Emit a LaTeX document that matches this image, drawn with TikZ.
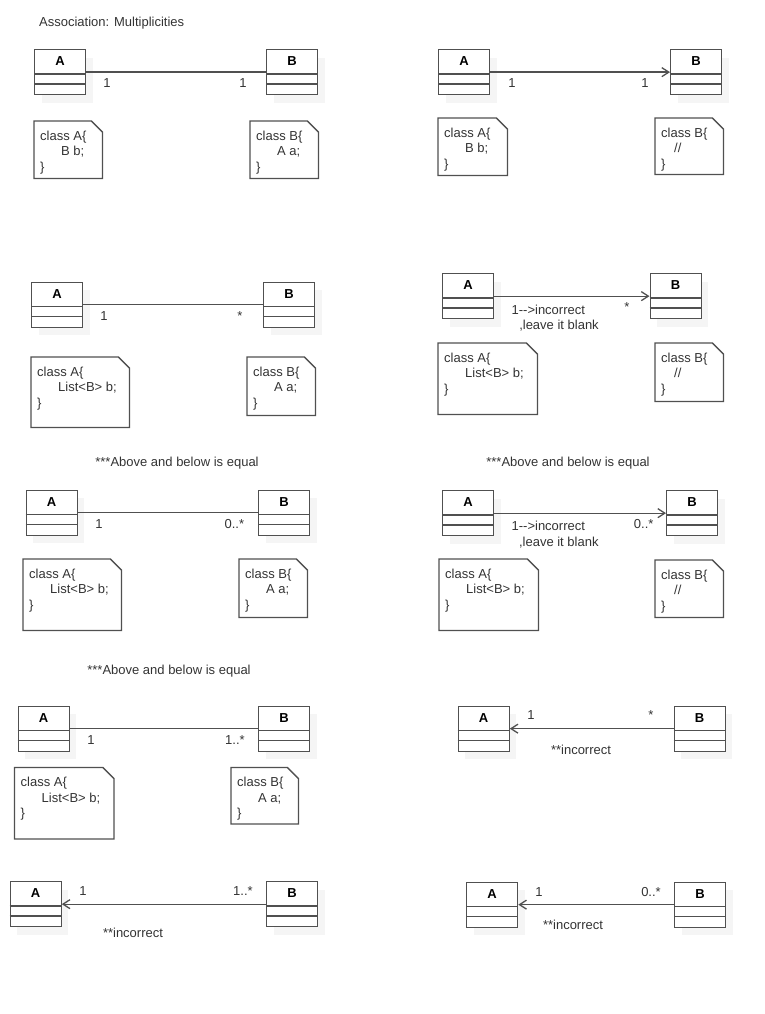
\documentclass[tikz,border=0pt]{standalone}
\usepackage{fontspec}
\setmainfont{Liberation Sans}
\usetikzlibrary{arrows.meta,shadows}

\definecolor{linegray}{HTML}{505050}
\definecolor{textgray}{HTML}{333333}

\newcommand{\umlclass}[4]{
  \node[classbox] (#1) at (#2,#3) {};
  \draw[thinline] ([yshift=-25pt]#1.north west) -- ([yshift=-25pt]#1.north east);
  \draw[thinline] ([yshift=-35pt]#1.north west) -- ([yshift=-35pt]#1.north east);
  \node[classname] (#1-name) at ([yshift=-12.5pt]#1.north) {#4};
}

\newcommand{\codenote}[6]{
  \node[notebox, minimum width=#4pt, minimum height=#5pt] (#1) at (#2,#3) {};
  \draw[thinline] (#1.north west) -- ([xshift=-11pt]#1.north east)
    -- ([yshift=-11pt]#1.north east) -- (#1.south east) -- (#1.south west) -- cycle;
  \node[notetext] (#1-text) at ([xshift=6pt,yshift=-9.5pt]#1.north west) {#6};
}

\begin{document}
\begin{tikzpicture}[x=1pt,y=-1pt,
  every node/.style={text=textgray,font=\fontsize{13}{15.5}\selectfont},
  thinline/.style={draw=linegray,line width=1.3pt},
  classbox/.style={draw=linegray,line width=1.3pt,fill=white,anchor=north west,inner sep=0pt,
    minimum width=51pt,minimum height=45pt,
    drop shadow={shadow xshift=7pt,shadow yshift=-8pt,fill=black!4,opacity=1}},
  classname/.style={font=\bfseries\fontsize{13}{15.5}\selectfont,text=black},
  notebox/.style={anchor=north west,inner sep=0pt},
  notetext/.style={anchor=north west,inner sep=0pt,align=left},
  mult/.style={anchor=base,inner sep=0pt},
  assoc/.style={draw=linegray,line width=1.3pt},
  nav/.style={-{Straight Barb[length=7pt,width=9pt]}}]

  \useasboundingbox (0,0) rectangle (764,1014);

  \node[mult,anchor=base west] (title) at (39,26.5) {Association: Multiplicities};

  % row 1
  \umlclass{a1}{34}{49}{A}
  \umlclass{b1}{266}{49}{B}
  \codenote{na1}{34}{121}{68}{57}{class A\{\\\hspace*{21pt}B b;\\\}}
  \codenote{nb1}{250}{121}{68}{57}{class B\{\\\hspace*{21pt}A a;\\\}}
  \path[assoc] (a1) edge (b1);
  \node[mult] (m1a) at (107,88) {1};
  \node[mult] (m1b) at (243,88) {1};

  \umlclass{a2}{438}{49}{A}
  \umlclass{b2}{670}{49}{B}
  \codenote{na2}{438}{118}{69}{57}{class A\{\\\hspace*{21pt}B b;\\\}}
  \codenote{nb2}{655}{118}{68}{56}{class B\{\\\hspace*{13pt}//\\\}}
  \path[assoc] (a2) edge[nav] (b2);
  \node[mult] (m2a) at (512,88) {1};
  \node[mult] (m2b) at (645,88) {1};

  % row 2
  \umlclass{a3}{31}{281.5}{A}
  \umlclass{b3}{263}{281.5}{B}
  \codenote{na3}{31}{357}{98}{70}{class A\{\\\hspace*{21pt}List<B> b;\\\}}
  \codenote{nb3}{247}{357}{68}{58}{class B\{\\\hspace*{21pt}A a;\\\}}
  \path[assoc] (a3) edge (b3);
  \node[mult] (m3a) at (104,320) {1};
  \node[mult] (m3b) at (240,320) {*};

  \umlclass{a4}{442}{273}{A}
  \umlclass{b4}{649.5}{273}{B}
  \codenote{na4}{438}{343}{99}{71}{class A\{\\\hspace*{21pt}List<B> b;\\\}}
  \codenote{nb4}{655}{343}{68}{58}{class B\{\\\hspace*{13pt}//\\\}}
  \path[assoc] (a4) edge[nav] (b4);
  \node[mult] (m4a) at (548.3,314.5) {1-{}->incorrect};
  \node[mult] (m4c) at (559,329.5) {,leave it blank};
  \node[mult] (m4b) at (627,311.5) {*};

  \node[mult] (eq1) at (177,466.5) {***Above and below is equal};
  \node[mult] (eq2) at (568,466.5) {***Above and below is equal};

  % row 3
  \umlclass{a5}{25.5}{489.5}{A}
  \umlclass{b5}{258}{489.5}{B}
  \codenote{na5}{23}{559}{98}{71}{class A\{\\\hspace*{21pt}List<B> b;\\\}}
  \codenote{nb5}{239}{559}{68}{58}{class B\{\\\hspace*{21pt}A a;\\\}}
  \path[assoc] (a5) edge (b5);
  \node[mult] (m5a) at (99,528) {1};
  \node[mult] (m5b) at (234.3,528) {0..*};

  \umlclass{a6}{442}{490}{A}
  \umlclass{b6}{666}{490}{B}
  \codenote{na6}{439}{559}{99}{71}{class A\{\\\hspace*{21pt}List<B> b;\\\}}
  \codenote{nb6}{655}{560}{68}{57}{class B\{\\\hspace*{13pt}//\\\}}
  \path[assoc] (a6) edge[nav] (b6);
  \node[mult] (m6a) at (548.3,530) {1-{}->incorrect};
  \node[mult] (m6c) at (558.8,546) {,leave it blank};
  \node[mult] (m6b) at (643.7,528.5) {0..*};

  \node[mult] (eq3) at (169,674.5) {***Above and below is equal};

  % row 4
  \umlclass{a7}{17.5}{705.5}{A}
  \umlclass{b7}{258}{705.5}{B}
  \codenote{na7}{14.5}{767.5}{99}{71}{class A\{\\\hspace*{21pt}List<B> b;\\\}}
  \codenote{nb7}{231}{767.5}{67}{56}{class B\{\\\hspace*{21pt}A a;\\\}}
  \path[assoc] (a7) edge (b7);
  \node[mult] (m7a) at (91,744) {1};
  \node[mult] (m7b) at (235,744) {1..*};

  \umlclass{a8}{457.5}{705.5}{A}
  \umlclass{b8}{673.5}{705.5}{B}
  \path[assoc] (b8) edge[nav] (a8);
  \node[mult] (m8a) at (531,719.5) {1};
  \node[mult] (m8b) at (651,719.5) {*};
  \node[mult] (w8) at (581,754.5) {**incorrect};

  % row 5
  \umlclass{a9}{9.5}{881}{A}
  \umlclass{b9}{266}{881}{B}
  \path[assoc] (b9) edge[nav] (a9);
  \node[mult] (m9a) at (83,895.5) {1};
  \node[mult] (m9b) at (243,895.5) {1..*};
  \node[mult] (w9) at (133,937.5) {**incorrect};

  \umlclass{a10}{466}{881.5}{A}
  \umlclass{b10}{674}{881.5}{B}
  \path[assoc] (b10) edge[nav] (a10);
  \node[mult] (m10a) at (539,896) {1};
  \node[mult] (m10b) at (651,896) {0..*};
  \node[mult] (w10) at (573,929.5) {**incorrect};
\end{tikzpicture}
\end{document}
